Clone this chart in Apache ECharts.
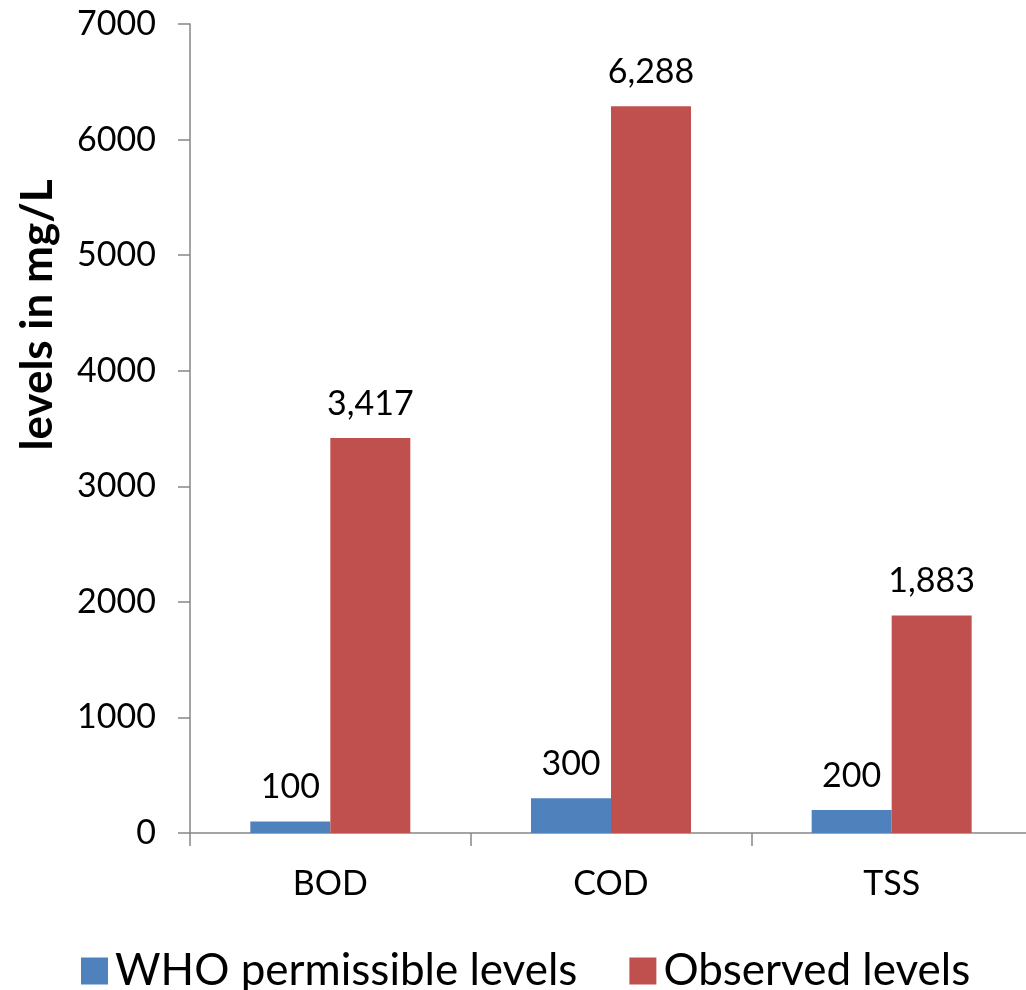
<!DOCTYPE html>
<html><head><meta charset="utf-8">
<script src="https://cdn.jsdelivr.net/npm/echarts@6/dist/echarts.min.js"></script>
<style>html,body{margin:0;padding:0;background:#fff}#c{width:1026px;height:990px}</style>
</head><body><div id="c"></div>
<script>
const categories = ['BOD', 'COD', 'TSS'];
const whoLevels = [100, 300, 200];
const observedLevels = [3417, 6288, 1883];
const yTicks = [0, 1000, 2000, 3000, 4000, 5000, 6000, 7000];
const seriesNames = ['WHO permissible levels', 'Observed levels'];
const yTitle = 'levels in mg/L';

const FONT = 'Lato';
const chart = echarts.init(document.getElementById('c'));
const fmt = p => p.value.toLocaleString('en-US');
chart.setOption({
  animation: false,
  textStyle: { fontFamily: FONT },
  grid: { left: 190, top: 24, width: 842, height: 809, containLabel: false, outerBoundsMode: 'none' },
  legend: {
    data: seriesNames, left: 76, top: 944, itemWidth: 27, itemHeight: 27, itemGap: 52,
    icon: 'rect',
    textStyle: { fontSize: 44, fontFamily: FONT, color: '#000', padding: [0, 0, 0, 2] }
  },
  graphic: [{
    type: 'text', x: 38, y: 315, rotation: Math.PI / 2,
    style: { text: yTitle, font: 'bold 44px ' + FONT, fill: '#000', align: 'center', verticalAlign: 'middle' }
  }],
  xAxis: {
    type: 'category', data: categories,
    axisLine: { lineStyle: { color: '#868686', width: 1.5 } },
    axisTick: { show: true, length: 13, lineStyle: { color: '#868686', width: 1.5 } },
    axisLabel: { fontSize: 34, color: '#000', margin: 34, fontFamily: FONT }
  },
  yAxis: {
    type: 'value', min: yTicks[0], max: yTicks[yTicks.length - 1], interval: 1000,
    axisLine: { show: true, lineStyle: { color: '#868686', width: 1.5 } },
    axisTick: { show: true, length: 12, lineStyle: { color: '#868686', width: 1.5 } },
    splitLine: { show: false },
    axisLabel: { fontSize: 34, color: '#000', margin: 34, fontFamily: FONT, formatter: v => String(v) }
  },
  series: [
    {
      name: seriesNames[0], type: 'bar', data: whoLevels, barWidth: 80, barGap: '0%',
      itemStyle: { color: '#4F81BD' },
      label: { show: true, position: 'top', distance: 17, fontSize: 34, color: '#000', formatter: fmt }
    },
    {
      name: seriesNames[1], type: 'bar', data: observedLevels, barWidth: 80, barGap: '0%',
      itemStyle: { color: '#C0504D' },
      label: { show: true, position: 'top', distance: 17, fontSize: 34, color: '#000', formatter: fmt }
    }
  ]
});
</script></body></html>
